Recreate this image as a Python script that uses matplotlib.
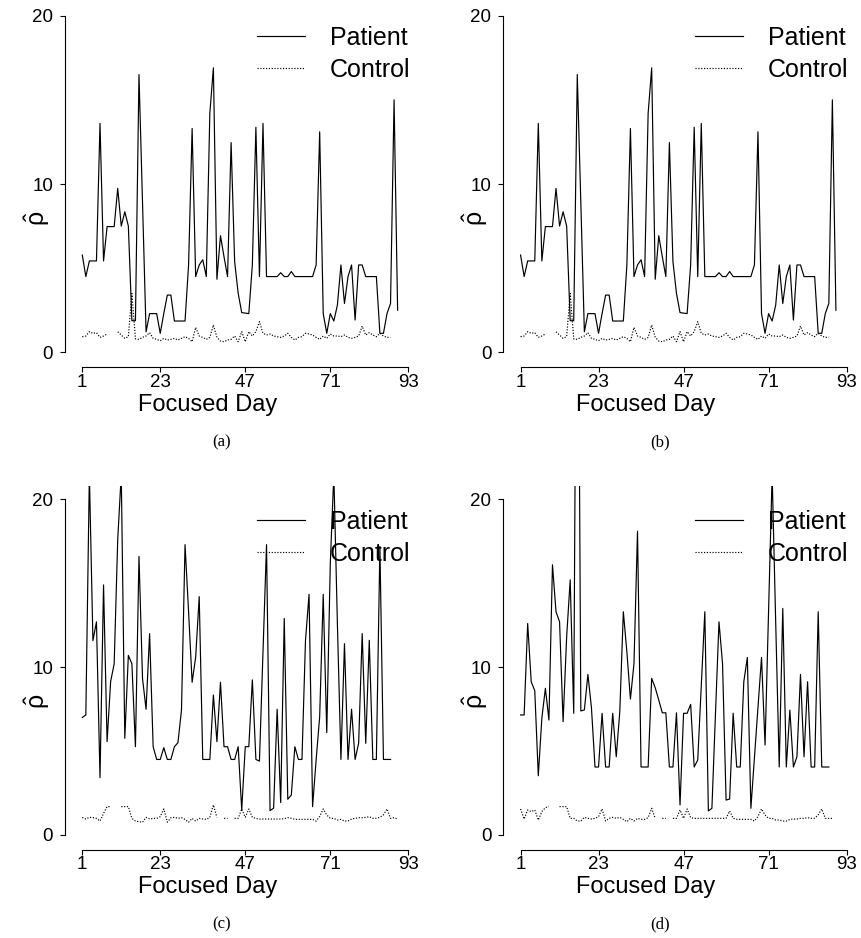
import numpy as np
import matplotlib
matplotlib.use("Agg")
import matplotlib.pyplot as plt

plt.rcParams["font.family"] = ["Liberation Sans", "DejaVu Sans"]
plt.rcParams["mathtext.fontset"] = "custom"
plt.rcParams["mathtext.rm"] = "Liberation Sans"
plt.rcParams["mathtext.it"] = "Liberation Sans:italic"

W, H = 861, 938

X_TICKS = [1, 23, 47, 71, 93]
Y_TICKS = [0, 10, 20]
X_LABEL = "Focused Day"
Y_LABEL = r"$\hat{\mathrm{\rho}}$"
LEGEND = ["Patient", "Control"]
NAN = np.nan

# panels (a) and (b) show the same series
patient_ab = [
    5.78, 4.5, 5.43, 5.43, 5.43, 13.6, 5.43, 7.47, 7.47, 7.47,
    9.74, 7.5, 8.35, 7.5, 1.88, 1.88, 16.5, 8.9, 1.22, 2.3,
    2.3, 2.3, 1.13, 2.3, 3.4, 3.4, 1.86, 1.86, 1.86, 1.86,
    5.19, 13.3, 4.5, 5.19, 5.5, 4.5, 14.2, 16.9, 4.34, 6.93,
    5.68, 4.5, 12.46, 5.39, 3.5, 2.36, 2.33, 2.3, 5.2, 13.37,
    4.5, 13.6, 4.5, 4.5, 4.5, 4.5, 4.73, 4.5, 4.5, 4.8,
    4.5, 4.5, 4.5, 4.5, 4.5, 4.5, 5.19, 13.1, 2.3, 1.13,
    2.3, 1.86, 2.8, 5.19, 2.9, 4.5, 5.19, 1.92, 5.19, 5.19,
    4.5, 4.5, 4.5, 4.5, 1.13, 1.13, 2.3, 2.9, 15.0, 2.5,
]
control_ab = [
    0.93, 0.97, 1.23, 1.13, 1.17, 0.89, 0.97, 1.09, NAN, NAN,
    1.22, 1.03, 0.83, 0.93, 3.5, 0.8, 0.77, 0.89, 0.97, 1.17,
    0.83, 0.77, 0.69, 0.83, 0.73, 0.77, 0.83, 0.73, 0.83, 0.93,
    0.83, 0.63, 1.48, 0.97, 0.89, 0.77, 0.89, 1.62, 0.89, 0.67,
    0.63, 0.73, 0.77, 0.97, 0.63, 1.23, 0.63, 1.23, 0.97, 1.23,
    1.82, 1.13, 1.03, 1.09, 0.97, 0.93, 0.89, 0.97, 1.13, 0.89,
    0.73, 0.89, 0.93, 1.13, 1.09, 1.03, 0.89, 0.77, 0.97, 0.83,
    1.09, 0.97, 0.97, 0.93, 1.03, 0.89, 0.83, 0.89, 0.97, 1.56,
    1.03, 1.17, 1.03, 0.93, 1.13, 0.97, 0.89, 0.89,
]

patient_c = [
    7.0, 7.15, 21.5, 11.58, 12.7, 3.42, 14.9, 5.56, 9.14, 10.2,
    17.6, 21.5, 5.76, 10.7, 10.2, 5.26, 16.6, 9.33, 7.49, 12.0,
    5.26, 4.5, 4.5, 5.2, 4.5, 4.5, 5.26, 5.5, 7.45, 17.3,
    13.3, 9.1, 10.6, 14.2, 4.5, 4.5, 4.5, 8.34, 5.56, 9.1,
    5.26, 5.26, 4.5, 4.5, 5.26, 1.49, 5.26, 5.26, 9.24, 4.5,
    4.4, 10.9, 17.3, 1.45, 1.6, 7.49, 1.93, 12.9, 2.13, 2.38,
    5.26, 4.5, 4.5, 11.6, 14.34, 1.69, 4.47, 7.05, 14.34, 6.1,
    16.2, 21.5, 12.6, 4.5, 11.4, 4.5, 7.49, 4.5, 5.46, 12.0,
    5.46, 11.6, 4.5, 4.5, 17.2, 4.5, 4.5, 4.5,
]
control_c = [
    1.05, 0.95, 1.05, 1.03, 0.99, 0.83, 1.29, 1.69, 1.69, NAN,
    NAN, 1.69, 1.69, 1.69, 0.99, 0.83, 0.79, 0.76, 1.05, 0.95,
    0.99, 0.99, 1.09, 1.55, 0.76, 1.03, 1.05, 0.99, 1.03, 0.93,
    0.76, 0.99, 0.83, 0.99, 0.95, 0.93, 1.05, 1.79, 1.05, NAN,
    0.99, 0.99, NAN, 0.99, 0.99, 1.55, 1.05, 1.55, 1.05, 0.99,
    0.95, 0.95, 0.95, 0.95, 0.95, 0.95, 0.95, 0.97, 1.03, 0.99,
    0.93, 0.93, 0.93, 0.93, 0.93, 0.93, 0.83, 1.1, 1.55, 1.19,
    0.99, 0.99, 0.89, 0.93, 0.83, 0.83, 0.95, 0.99, 1.03, 1.03,
    1.05, 1.09, 0.99, 1.0, 1.05, 1.2, 1.55, 0.99, 1.03, 0.95,
]

patient_d = [
    7.15, 7.15, 12.6, 9.13, 8.6, 3.53, 6.96, 8.74, 6.85, 16.1,
    13.3, 12.7, 6.75, 11.8, 15.2, 7.25, 45.0, 7.39, 7.45, 9.57,
    7.58, 4.05, 4.05, 7.25, 4.05, 4.05, 7.25, 4.66, 7.35, 13.3,
    10.9, 8.1, 10.2, 18.1, 4.05, 4.05, 4.05, 9.33, 8.77, 8.04,
    7.28, 7.28, 4.05, 4.05, 7.28, 1.79, 7.25, 7.25, 7.78, 4.05,
    4.47, 8.9, 13.3, 1.43, 1.59, 7.2, 12.7, 10.2, 2.08, 2.14,
    7.25, 4.05, 4.05, 9.13, 10.58, 1.59, 4.6, 7.6, 10.58, 5.36,
    13.4, 21.5, 12.7, 4.05, 13.5, 4.05, 7.44, 4.05, 4.66, 9.57,
    4.66, 9.13, 4.05, 4.05, 13.3, 4.05, 4.05, 4.05,
]
control_d = [
    1.55, 0.95, 1.49, 1.39, 1.49, 0.89, 1.39, 1.63, 1.69, NAN,
    NAN, 1.69, 1.69, 1.69, 0.99, 0.99, 0.83, 0.83, 1.05, 0.99,
    0.95, 0.99, 1.09, 1.55, 0.83, 0.99, 1.05, 0.99, 1.05, 0.93,
    0.79, 0.99, 0.83, 0.99, 0.93, 0.93, 1.03, 1.59, 0.99, NAN,
    0.99, 0.99, NAN, 0.99, 0.99, 1.49, 0.99, 1.55, 1.03, 0.99,
    0.99, 0.99, 0.99, 0.99, 0.99, 0.99, 0.99, 0.99, 0.99, 1.43,
    0.99, 0.93, 0.93, 0.93, 0.93, 0.93, 0.83, 1.1, 1.55, 1.19,
    0.99, 0.99, 0.89, 0.89, 0.83, 0.83, 0.93, 0.95, 0.95, 0.99,
    0.99, 1.03, 0.99, 1.0, 1.2, 1.55, 0.99, 0.99, 0.99,
]

PANELS = [
    ("(a)", patient_ab, control_ab, 65.0, 2.2, 365.8),
    ("(b)", patient_ab, control_ab, 503.3, 2.2, 365.8),
    ("(c)", patient_c, control_c, 65.0, 485.9, 848.4),
    ("(d)", patient_d, control_d, 503.3, 485.9, 848.4),
]

X_LIM = (-3.88, 96.7)
Y_LIM = (-0.8, 20.8)
PX_PER_DAY = 3.543


def fx(px):
    return px / W


def fy(py):
    return 1 - py / H


def _draw_panel(fig, caption, patient, control, left, top, bottom):
    width = (X_LIM[1] - X_LIM[0]) * PX_PER_DAY
    ax = fig.add_axes([fx(left), fy(bottom), width / W, (bottom - top) / H])

    days_p = np.arange(1, len(patient) + 1)
    days_c = np.arange(1, len(control) + 1)
    ax.plot(days_p, patient, color="black", lw=0.85, label=LEGEND[0])
    ax.plot(days_c, control, color="black", lw=0.85, ls=(0, (1, 1.4)), label=LEGEND[1])

    ax.set_xlim(*X_LIM)
    ax.set_ylim(*Y_LIM)
    ax.set_xticks(X_TICKS)
    ax.set_yticks(Y_TICKS)
    for side in ["top", "right"]:
        ax.spines[side].set_visible(False)
    ax.spines["left"].set_bounds(0, 20)
    ax.spines["bottom"].set_bounds(1, 93)
    ax.spines["bottom"].set_position(("outward", 1.2))
    for side in ["left", "bottom"]:
        ax.spines[side].set_linewidth(0.8)
    ax.tick_params(axis="both", direction="out", length=3.6, width=0.8, labelsize=13.5)
    ax.tick_params(axis="x", pad=0.8)
    ax.tick_params(axis="y", pad=5)

    ax.legend(
        loc="upper left",
        bbox_to_anchor=(fx(left + 191.7), fy(top + 24)),
        bbox_transform=fig.transFigure,
        frameon=False,
        fontsize=18,
        borderpad=0,
        borderaxespad=0,
        handlelength=1.92,
        handletextpad=1.0,
        labelspacing=0.32,
    )

    axis_y = bottom + 1.2
    fig.text(fx(left + 142.5), fy(axis_y + 43.7), X_LABEL, fontsize=17,
             ha="center", va="baseline")
    fig.text(fx(left - 28), fy(top + 216), Y_LABEL, fontsize=18,
             rotation=90, ha="center", va="center")
    fig.text(fx(left + 157), fy(axis_y + 79), caption, fontsize=12,
             family="Liberation Serif", ha="center", va="baseline")


fig = plt.figure(figsize=(W / 100, H / 100), dpi=100)
for caption, patient, control, left, top, bottom in PANELS:
    _draw_panel(fig, caption, patient, control, left, top, bottom)

fig.savefig("out.png", dpi=100)
plt.close(fig)
